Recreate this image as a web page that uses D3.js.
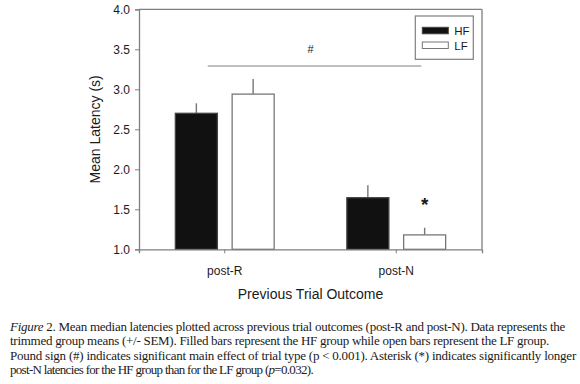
<!DOCTYPE html>
<html>
<head>
<meta charset="utf-8">
<script src="https://cdn.jsdelivr.net/npm/d3@7"></script>
<style>
  body { margin: 0; background: #fff; }
  svg text { fill: #1a1a1a; }
</style>
</head>
<body>
<div id="chart"></div>
<script>
const categories = ["post-R", "post-N"];
const groups = ["HF", "LF"];
const hfMeans = [2.70, 1.645];
const hfSem = [0.125, 0.155];
const lfMeans = [2.94, 1.18];
const lfSem = [0.19, 0.09];
const yTicks = [1.0, 1.5, 2.0, 2.5, 3.0, 3.5, 4.0];

const captionLines = [
  [{ t: "Figure", i: true }, { t: " 2. Mean median latencies plotted across previous trial outcomes (post-R and post-N). Data represents the" }],
  [{ t: "trimmed group means (+/- SEM). Filled bars represent the HF group while open bars represent the LF group." }],
  [{ t: "Pound sign (#) indicates significant main effect of trial type (p < 0.001). Asterisk (*) indicates significantly longer" }],
  [{ t: "post-N latencies for the HF group than for the LF group (" }, { t: "p", i: true }, { t: "=0.032)." }]
];
const captionWidths = [555, 539, 566, 303];

const data = categories.map((c, i) => ({
  cat: c,
  values: [
    { g: "HF", mean: hfMeans[i], sem: hfSem[i] },
    { g: "LF", mean: lfMeans[i], sem: lfSem[i] }
  ]
}));

const margin = { top: 9.3, left: 139 },
      width = 343,
      height = 240;

const svg = d3.select("#chart")
  .append("svg")
  .attr("width", 580)
  .attr("height", 384);

const g = svg.append("g")
  .attr("transform", `translate(${margin.left}, ${margin.top})`);

const x0 = d3.scaleBand()
  .domain(categories)
  .range([0, width])
  .padding(0);

const x1 = d3.scaleBand()
  .domain(groups)
  .range([0, x0.bandwidth()])
  .paddingInner(0.26)
  .paddingOuter(0.64);

const y = d3.scaleLinear()
  .domain([1, 4])
  .range([height, 0]);

const axisColor = "#7f7f7f";
const font = "'Liberation Sans', Arial, sans-serif";

// frame (top and right)
g.append("line").attr("x1", 0).attr("x2", width).attr("y1", 0).attr("y2", 0)
  .attr("stroke", axisColor).attr("stroke-width", 1.3);
g.append("line").attr("x1", width).attr("x2", width).attr("y1", 0).attr("y2", height)
  .attr("stroke", axisColor).attr("stroke-width", 1.3);

// bars
const cat = g.selectAll("g.cat")
  .data(data)
  .enter().append("g")
  .attr("class", "cat")
  .attr("transform", d => `translate(${x0(d.cat)}, 0)`);

cat.selectAll("line.err")
  .data(d => d.values)
  .enter().append("line")
  .attr("class", "err")
  .attr("x1", d => x1(d.g) + x1.bandwidth() / 2)
  .attr("x2", d => x1(d.g) + x1.bandwidth() / 2)
  .attr("y1", d => y(d.mean))
  .attr("y2", d => y(d.mean + d.sem))
  .attr("stroke", "#777")
  .attr("stroke-width", 1.4);

cat.selectAll("rect")
  .data(d => d.values)
  .enter().append("rect")
  .attr("x", d => x1(d.g))
  .attr("y", d => y(d.mean))
  .attr("width", x1.bandwidth())
  .attr("height", d => y(1) - y(d.mean))
  .attr("fill", d => d.g === "HF" ? "#111" : "#fff")
  .attr("stroke", d => d.g === "HF" ? "#444" : "#777")
  .attr("stroke-width", 1.3);

// axes
const yAxis = g.append("g")
  .call(d3.axisLeft(y).tickValues(yTicks).tickFormat(d3.format(".1f")).tickSizeOuter(0).tickSize(4).tickPadding(5));
const xAxis = g.append("g")
  .attr("transform", `translate(0, ${height})`)
  .call(d3.axisBottom(x0).tickSizeOuter(0).tickSize(4).tickPadding(13));

[yAxis, xAxis].forEach(a => {
  a.select(".domain").attr("stroke", axisColor).attr("stroke-width", 1.3);
  a.selectAll(".tick line").attr("stroke", axisColor);
  a.selectAll(".tick text").style("font-family", font).style("font-size", "12px").attr("fill", "#1a1a1a");
});

// axis titles
g.append("text")
  .attr("transform", `translate(-39, ${height / 2}) rotate(-90)`)
  .attr("text-anchor", "middle")
  .style("font-family", font)
  .style("font-size", "14px")
  .text("Mean Latency (s)");

g.append("text")
  .attr("x", width / 2)
  .attr("y", 290)
  .attr("text-anchor", "middle")
  .style("font-family", font)
  .style("font-size", "14px")
  .text("Previous Trial Outcome");

// significance annotations
const sigY = 3.29;
g.append("line")
  .attr("x1", x0("post-R") + x0.bandwidth() / 2 - 17)
  .attr("x2", x0("post-N") + x0.bandwidth() / 2 + 25)
  .attr("y1", y(sigY)).attr("y2", y(sigY))
  .attr("stroke", "#aaa").attr("stroke-width", 1.5);

g.append("text")
  .attr("x", x0("post-R") + x0.bandwidth())
  .attr("y", y(sigY) - 13)
  .attr("text-anchor", "middle")
  .style("font-family", font)
  .style("font-size", "11px")
  .text("#");

g.append("text")
  .attr("x", x0("post-N") + x1("LF") + x1.bandwidth() / 2)
  .attr("y", y(lfMeans[1] + lfSem[1]) - 17)
  .attr("text-anchor", "middle")
  .style("font-family", font)
  .style("font-size", "19px")
  .style("font-weight", "bold")
  .text("*");

// legend
const legend = g.append("g")
  .attr("transform", `translate(${width - 66.7}, 6.7)`);

legend.append("rect")
  .attr("width", 58).attr("height", 43.3)
  .attr("fill", "#fff").attr("stroke", axisColor).attr("stroke-width", 1.2);

groups.forEach((grp, i) => {
  const row = legend.append("g").attr("transform", `translate(7, ${11.3 + i * 14.7})`);
  row.append("rect")
    .attr("width", 26).attr("height", 6.5)
    .attr("fill", grp === "HF" ? "#111" : "#fff")
    .attr("stroke", grp === "HF" ? "#444" : "#777")
    .attr("stroke-width", 1);
  row.append("text")
    .attr("x", 32).attr("y", 7.5)
    .style("font-family", font)
    .style("font-size", "11.5px")
    .text(grp);
});

// caption: each run is its own text, spacing stretched to the line width
const caption = svg.append("g");
captionLines.forEach((line, i) => {
  const parts = line.map(part => caption.append("text")
    .attr("y", 330.5 + i * 14.5)
    .style("font-family", "'Liberation Serif', 'DejaVu Serif', serif")
    .style("font-size", "13px")
    .style("font-style", part.i ? "italic" : "normal")
    .style("white-space", "pre")
    .attr("fill", "#222")
    .text(part.t));
  const natural = d3.sum(parts, p => p.node().getComputedTextLength());
  const chars = d3.sum(line, p => p.t.length);
  const ls = (captionWidths[i] - natural) / chars;
  let xPos = 10;
  parts.forEach(p => {
    p.style("letter-spacing", ls + "px").attr("x", xPos);
    xPos += p.node().getComputedTextLength();
  });
});
</script>
</body>
</html>
